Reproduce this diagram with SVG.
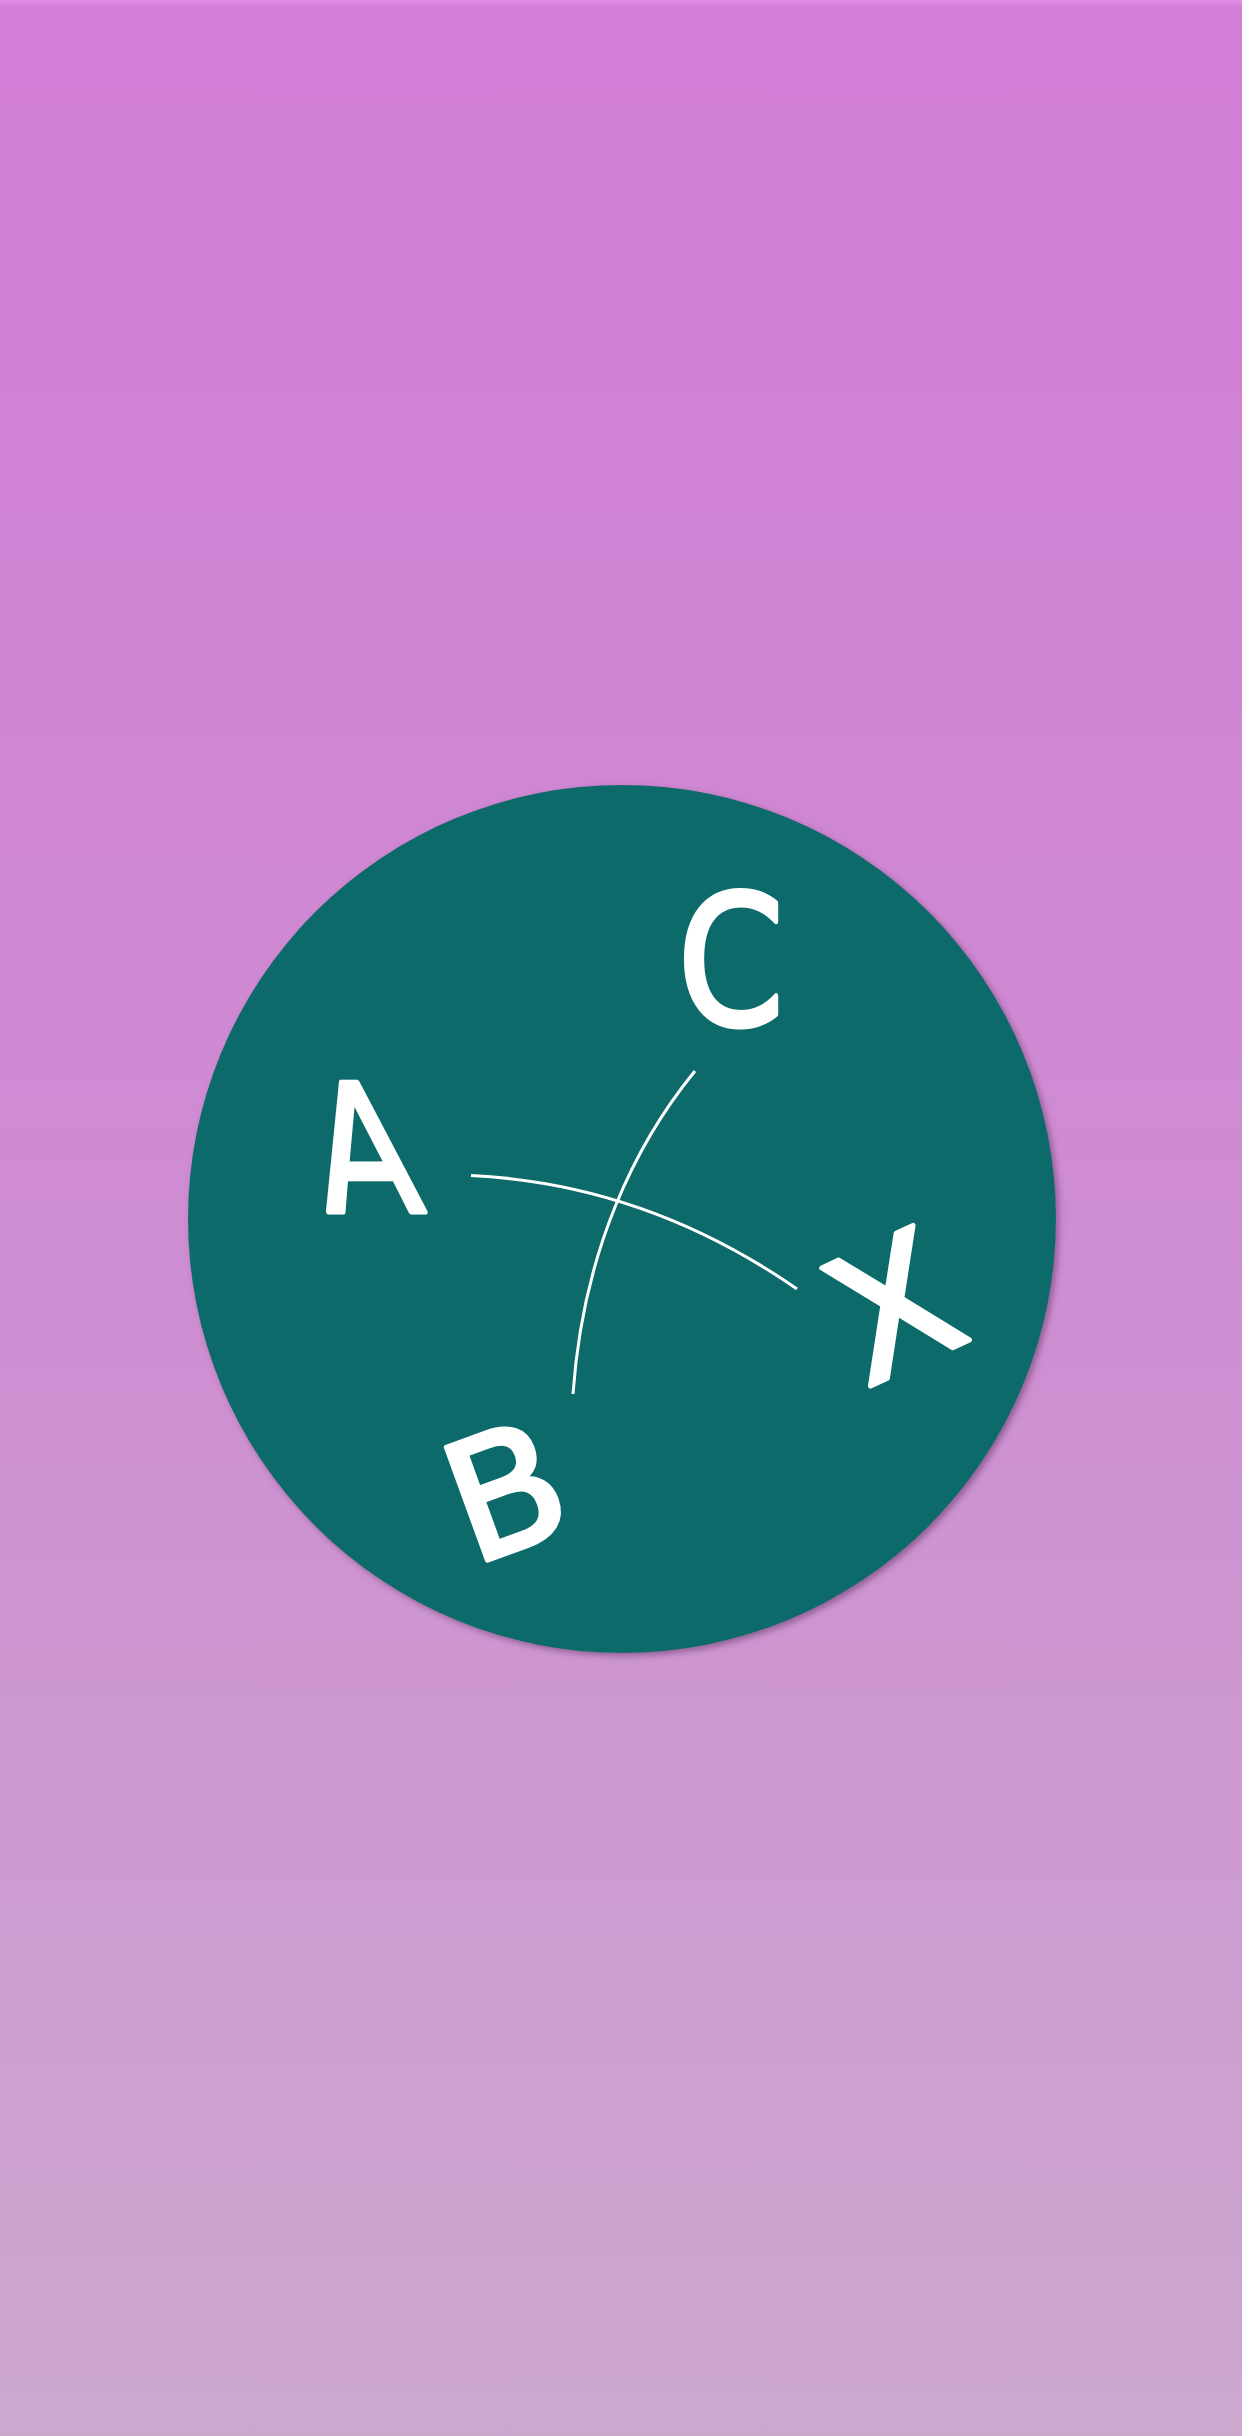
<svg xmlns="http://www.w3.org/2000/svg" width="1242" height="2436" viewBox="0 0 1242 2436">
<defs>
<linearGradient id="bg" x1="0" y1="0" x2="0" y2="1">
<stop offset="0" stop-color="#d27dd6"/>
<stop offset="0.5" stop-color="#ce8cd2"/>
<stop offset="1" stop-color="#cca8cf"/>
</linearGradient>
<linearGradient id="topband" x1="0" y1="0" x2="0" y2="1">
<stop offset="0" stop-color="#e48ee6" stop-opacity="1"/>
<stop offset="1" stop-color="#e48ee6" stop-opacity="0"/>
</linearGradient>
<filter id="shadow" x="-10%" y="-10%" width="120%" height="120%">
<feDropShadow dx="3" dy="3" stdDeviation="3" flood-color="#6a3a70" flood-opacity="0.6"/>
</filter>
</defs>
<style>
.letter{font-family:"DejaVu Sans","Liberation Sans",sans-serif;fill:#ffffff;stroke:#ffffff;stroke-width:5;stroke-linejoin:round;stroke-linecap:round;text-anchor:middle}
.conn{fill:none;stroke:#ffffff;stroke-width:3;stroke-linecap:butt}
</style>
<rect x="0" y="0" width="1242" height="2436" fill="url(#bg)"/>
<rect x="0" y="0" width="1242" height="8" fill="url(#topband)"/>
<g id="disc">
<circle cx="622" cy="1219" r="434" fill="#116b6b" filter="url(#shadow)"/>
</g>
<g id="connectors">
<path class="conn" d="M471,1175.5 Q646,1184 797,1289"/>
<path class="conn" d="M695,1071 C636,1143 583,1250 573,1394"/>
</g>
<g id="node-A">
<text class="letter" font-size="178" transform="translate(377,1212) skewX(12) scale(0.82,1)">A</text>
</g>
<g id="node-C">
<text class="letter" font-size="180" transform="translate(731,1024) scale(0.85,1)">C</text>
</g>
<g id="node-X">
<text class="letter" font-size="175" transform="translate(893,1305) rotate(-25) translate(0,64)">X</text>
</g>
<g id="node-B">
<text class="letter" font-size="165" transform="translate(505,1490) rotate(-20) translate(0,60)">B</text>
</g>
</svg>
